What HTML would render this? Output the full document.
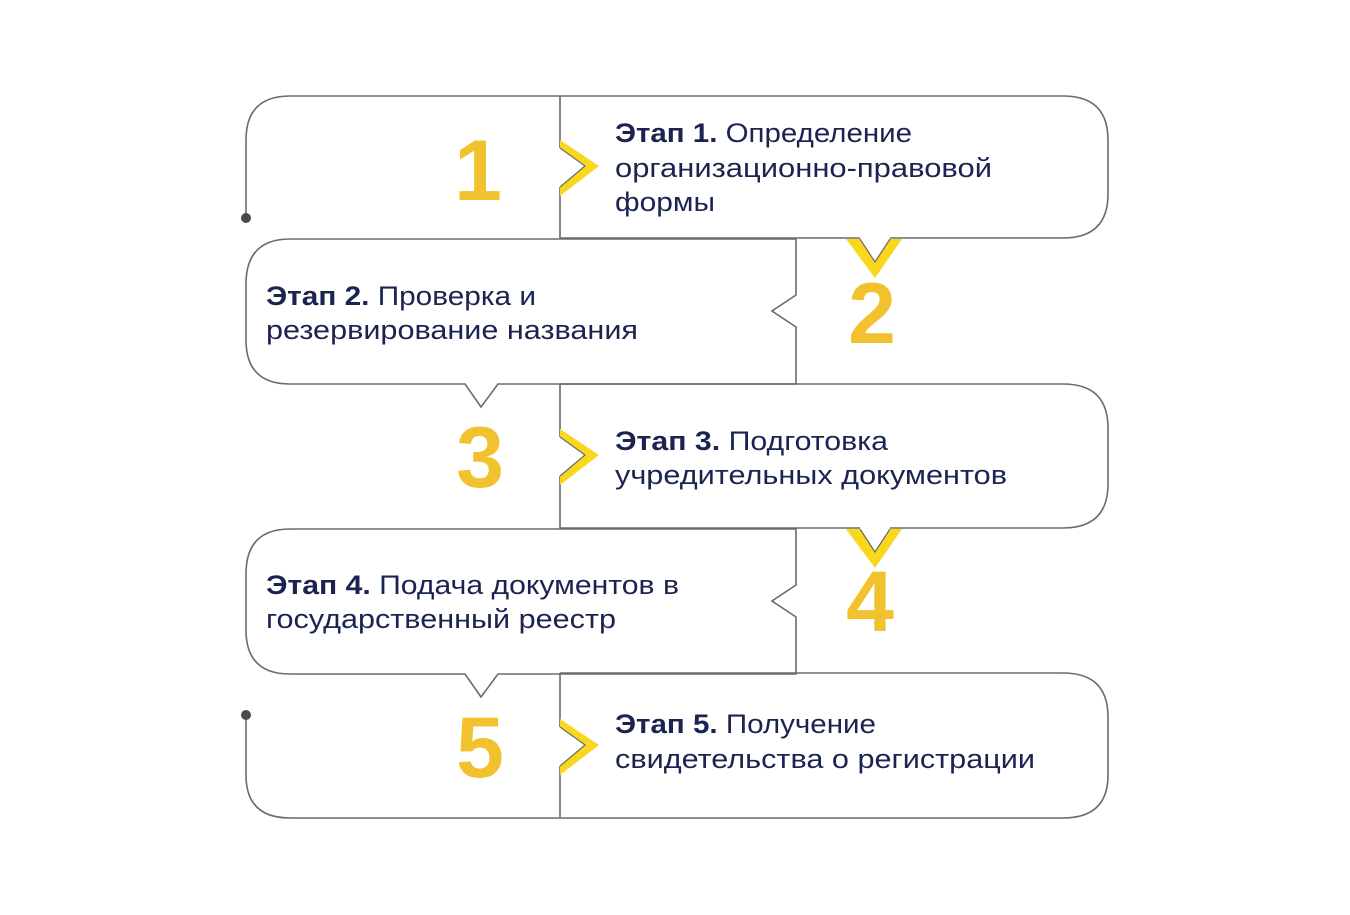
<!DOCTYPE html>
<html><head><meta charset="utf-8"><style>
html,body{margin:0;padding:0;background:#fff;}
svg{display:block;}
text{font-family:"Liberation Sans","DejaVu Sans",sans-serif;}
.t{font-size:27px;fill:#1b2450;}
.b{font-weight:bold;}
.n{font-size:86px;font-weight:bold;fill:#f2c12e;}
.l{fill:none;stroke:#6b6b6b;stroke-width:1.6;}
.y{fill:#f9d71c;}
</style></head><body>
<svg width="1350" height="915" viewBox="0 0 1350 915">
<path class="l" d="M246,218 V140 Q246,96 290,96 H1063 Q1108,96 1108,140 V194 Q1108,238 1063,238 H560"/>
<line class="l" x1="560" y1="96" x2="560" y2="238"/>
<circle cx="246" cy="218" r="5" fill="#4a4a4a"/>
<path class="l" d="M796,239 H290 Q246,239 246,284 V340 Q246,384 290,384 H465 L481,407 L498,384 H796 V327 L772,311 L796,295 Z"/>
<path class="l" d="M560,384 H1063 Q1108,384 1108,428 V484 Q1108,528 1063,528 H560 Z"/>
<path class="l" d="M796,529 H290 Q246,529 246,574 V630 Q246,674 290,674 H465 L481,697 L498,674 H796 V617 L772,601 L796,585 Z"/>
<path class="l" d="M246,715 V775 Q246,818 290,818 H1063 Q1108,818 1108,775 V717 Q1108,673 1063,673 H560"/>
<line class="l" x1="560" y1="673" x2="560" y2="818"/>
<circle cx="246" cy="715" r="5" fill="#4a4a4a"/>

<g fill="#fff">
<rect x="557" y="148" width="6" height="39"/>
<rect x="557" y="437" width="6" height="39"/>
<rect x="557" y="727" width="6" height="39"/>
<rect x="860" y="236" width="30" height="6"/>
<rect x="860" y="526" width="30" height="6"/>
</g>
<g class="y">
<polygon points="560,140 599,166 560,196 560,187 585,166 560,148"/>
<polygon points="560,429 599,455 560,485 560,476 585,455 560,437"/>
<polygon points="560,719 599,745 560,775 560,766 585,745 560,727"/>
<polygon points="846,239 860,239 875,262 890,239 902,239 875,278"/>
<polygon points="846,529 860,529 875,552 890,529 902,529 875,568"/>
</g>
<g class="l" style="stroke-width:1.2">
<polyline points="560,148 585,166 560,187"/>
<polyline points="560,437 585,455 560,476"/>
<polyline points="560,727 585,745 560,766"/>
<polyline points="860,239 875,262 890,239"/>
<polyline points="860,529 875,552 890,529"/>
</g>

<text class="n" x="478" y="200" text-anchor="middle">1</text>
<text class="n" x="872" y="343" text-anchor="middle">2</text>
<text class="n" x="480" y="487" text-anchor="middle">3</text>
<text class="n" x="870" y="631" text-anchor="middle">4</text>
<text class="n" x="480" y="777" text-anchor="middle">5</text>

<text class="t" x="615" y="142" textLength="297" lengthAdjust="spacingAndGlyphs"><tspan class="b">Этап 1.</tspan> Определение</text>
<text class="t" x="615" y="177" textLength="377" lengthAdjust="spacingAndGlyphs">организационно-правовой</text>
<text class="t" x="615" y="211" textLength="100" lengthAdjust="spacingAndGlyphs">формы</text>
<text class="t" x="266" y="305" textLength="270" lengthAdjust="spacingAndGlyphs"><tspan class="b">Этап 2.</tspan> Проверка и</text>
<text class="t" x="266" y="339" textLength="372" lengthAdjust="spacingAndGlyphs">резервирование названия</text>
<text class="t" x="615" y="450" textLength="273" lengthAdjust="spacingAndGlyphs"><tspan class="b">Этап 3.</tspan> Подготовка</text>
<text class="t" x="615" y="484" textLength="392" lengthAdjust="spacingAndGlyphs">учредительных документов</text>
<text class="t" x="266" y="594" textLength="413" lengthAdjust="spacingAndGlyphs"><tspan class="b">Этап 4.</tspan> Подача документов в</text>
<text class="t" x="266" y="628" textLength="350" lengthAdjust="spacingAndGlyphs">государственный реестр</text>
<text class="t" x="615" y="733" textLength="261" lengthAdjust="spacingAndGlyphs"><tspan class="b">Этап 5.</tspan> Получение</text>
<text class="t" x="615" y="768" textLength="420" lengthAdjust="spacingAndGlyphs">свидетельства о регистрации</text>
</svg>
</body></html>
